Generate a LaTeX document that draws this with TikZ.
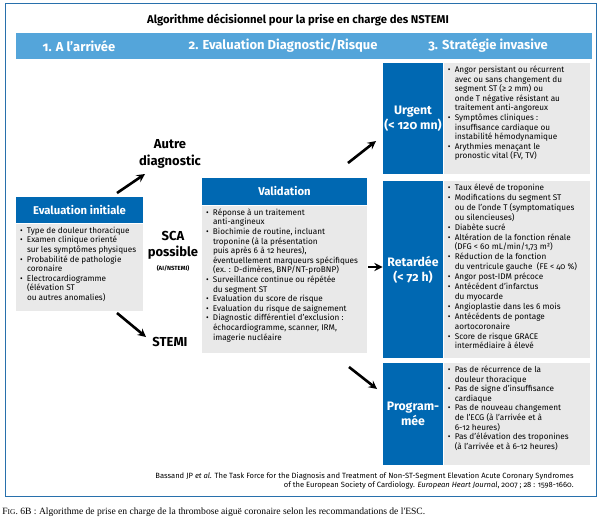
\documentclass[tikz,border=0pt]{standalone}
\usepackage{fontspec}
\setmainfont{Fira Sans}[Numbers=OldStyle]
\newfontfamily\capfont{Liberation Serif}
\usetikzlibrary{shapes,arrows,positioning}
\definecolor{darkblue}{RGB}{0,104,178}
\definecolor{bandblue}{RGB}{84,165,218}
\definecolor{boxgray}{RGB}{233,233,233}
\definecolor{framecolor}{RGB}{40,112,172}

% bullet and continuation indents
\newcommand{\bitem}{\makebox[7pt][l]{\textbullet}}
\newcommand{\bcont}{\hspace*{7pt}}

\begin{document}
\begin{tikzpicture}[
    x=1pt, y=-1pt,
    thick,
    hdr/.style={rectangle, fill=darkblue, text=white, inner sep=0pt, font=\bfseries\fontsize{11.3}{13}\selectfont},
    tagbox/.style={rectangle, fill=darkblue, text=white, inner sep=0pt, align=center, font=\bfseries\fontsize{12.3}{15}\selectfont},
    graybox/.style={rectangle, fill=boxgray, inner sep=0pt},
    itemtext/.style={anchor=north west, align=left, inner xsep=4pt, inner ysep=3pt, font=\fontsize{8.2}{9.6}\selectfont},
    choicetext/.style={align=center, font=\bfseries\fontsize{13}{16.5}\selectfont},
    bandtext/.style={text=white, font=\bfseries\fontsize{13}{15}\selectfont},
    arrow/.style={->, >=stealth, line width=2.6pt}
]
\useasboundingbox (0,0) rectangle (600,528);

% Frame and title
\draw[framecolor, line width=1pt] (5,3) rectangle (596,496);
\node[font=\bfseries\fontsize{11.3}{13}\selectfont] (title) at (298,20) {Algorithme décisionnel pour la prise en charge des NSTEMI};

% Column band
\node[rectangle, fill=bandblue, minimum width=576pt, minimum height=26pt, inner sep=0pt] (band) at (304,46) {};
\node[bandtext] (arrivee) at (79,46) {1. A l'arrivée};
\node[bandtext] (evaluation) at (283,46) {2. Evaluation Diagnostic/Risque};
\node[bandtext] (strategie) at (488,46) {3. Stratégie invasive};

% Step 1
\node[hdr, minimum width=127pt, minimum height=26pt] (inithead) at (79.5,210) {Evaluation initiale};
\node[graybox, minimum width=127pt, minimum height=87pt, below=0pt of inithead] (initbody) {};
\node[itemtext] (inittext) at (initbody.north west) {%
\bitem Type de douleur thoracique\\
\bitem Examen clinique orienté\\
\bcont sur les symptômes physiques\\
\bitem Probabilité de pathologie\\
\bcont coronaire\\
\bitem Electrocardiogramme\\
\bcont (élévation ST\\
\bcont ou autres anomalies)};

% Outcomes of step 1
\node[choicetext] (autre) at (170,154) {Autre\\diagnostic};
\node[choicetext] (sca) at (173,251) {SCA\\possible\\[-3pt]{\fontsize{6}{8}\selectfont (AI/NSTEMI)}};
\node[choicetext] (stemi) at (170,342) {STEMI};

% Step 2
\node[hdr, minimum width=165pt, minimum height=27pt] (valhead) at (284.5,191.5) {Validation};
\node[graybox, minimum width=165pt, minimum height=147pt, below=0pt of valhead] (valbody) {};
\node[itemtext] (valtext) at (valbody.north west) {%
\bitem Réponse à un traitement\\
\bcont anti-angineux\\
\bitem Biochimie de routine, incluant\\
\bcont troponine (à la présentation\\
\bcont puis après 6 à 12 heures),\\
\bcont éventuellement marqueurs spécifiques\\
\bcont (ex. : D-dimères, BNP/NT-proBNP)\\
\bitem Surveillance continue ou répétée\\
\bcont du segment ST\\
\bitem Evaluation du score de risque\\
\bitem Evaluation du risque de saignement\\
\bitem Diagnostic différentiel d'exclusion :\\
\bcont échocardiogramme, scanner, IRM,\\
\bcont imagerie nucléaire};

% Step 3
\node[tagbox, minimum width=60pt, minimum height=111pt] (urgtag) at (413,118.5) {Urgent\\(< 120 mn)};
\node[graybox, minimum width=146pt, minimum height=111pt, right=0pt of urgtag] (urgbody) {};
\node[itemtext] (urgtext) at (urgbody.north west) {%
\bitem Angor persistant ou récurrent\\
\bcont avec ou sans changement du\\
\bcont segment ST (≥ 2 mm) ou\\
\bcont onde T négative résistant au\\
\bcont traitement anti-angoreux\\
\bitem Symptômes cliniques :\\
\bcont insuffisance cardiaque ou\\
\bcont instabilité hémodynamique\\
\bitem Arythmies menaçant le\\
\bcont pronostic vital (FV, TV)};

\node[tagbox, minimum width=60pt, minimum height=177pt] (rettag) at (413,269.5) {Retardée\\(< 72 h)};
\node[graybox, minimum width=146pt, minimum height=177pt, right=0pt of rettag] (retbody) {};
\node[itemtext, font=\fontsize{8.2}{9.9}\selectfont] (rettext) at (retbody.north west) {%
\bitem Taux élevé de troponine\\
\bitem Modifications du segment ST\\
\bcont ou de l'onde T (symptomatiques\\
\bcont ou silencieuses)\\
\bitem Diabète sucré\\
\bitem Altération de la fonction rénale\\
\bcont (DFG < 60 mL/min/1,73 m²)\\
\bitem Réduction de la fonction\\
\bcont du ventricule gauche~ (FE < 40 \%)\\
\bitem Angor post-IDM précoce\\
\bitem Antécédent d'infarctus\\
\bcont du myocarde\\
\bitem Angioplastie dans les 6 mois\\
\bitem Antécédents de pontage\\
\bcont aortocoronaire\\
\bitem Score de risque GRACE\\
\bcont intermédiaire à élevé};

\node[tagbox, minimum width=60pt, minimum height=102pt] (progtag) at (413,414) {Program-\\mée};
\node[graybox, minimum width=146pt, minimum height=102pt, right=0pt of progtag] (progbody) {};
\node[itemtext] (progtext) at (progbody.north west) {%
\bitem Pas de récurrence de la\\
\bcont douleur thoracique\\
\bitem Pas de signe d'insuffisance\\
\bcont cardiaque\\
\bitem Pas de nouveau changement\\
\bcont de l'ECG (à l'arrivée et à\\
\bcont 6-12 heures)\\
\bitem Pas d'élévation des troponines\\
\bcont (à l'arrivée et à 6-12 heures)};

% Arrow ends
\coordinate (upfrom) at (117,193);
\coordinate (upto) at (145,174);
\coordinate (downfrom) at (117,313);
\coordinate (downto) at (146,337);
\coordinate (urgfrom) at (348,163);
\coordinate (urgto) at (376,141);
\coordinate (retfrom) at (368,267);
\coordinate (progfrom) at (349,367);
\coordinate (progto) at (377,389);

% Arrows
\draw[arrow] (upfrom) -- (upto);
\draw[arrow] (downfrom) -- (downto);
\draw[arrow] (urgfrom) -- (urgto);
\draw[arrow] (retfrom) -- (rettag.west |- retfrom);
\draw[arrow] (progfrom) -- (progto);

% Reference and caption
\node[anchor=north east, align=right, inner sep=0pt, font=\fontsize{7.6}{9.4}\selectfont] (source) at (574,472) {Bassand JP \textit{et al.} The Task Force for the Diagnosis and Treatment of Non-ST-Segment Elevation Acute Coronary Syndromes\\
of the European Society of Cardiology. \textit{European Heart Journal}, 2007 ; 28 : 1598-1660.};
\node[anchor=west, inner sep=0pt, font=\capfont\fontsize{9.6}{11}\selectfont] (caption) at (2,512) {F{\fontsize{7.4}{11}\selectfont IG}. 6B : Algorithme de prise en charge de la thrombose aiguë coronaire selon les recommandations de l'ESC.};

\end{tikzpicture}
\end{document}
